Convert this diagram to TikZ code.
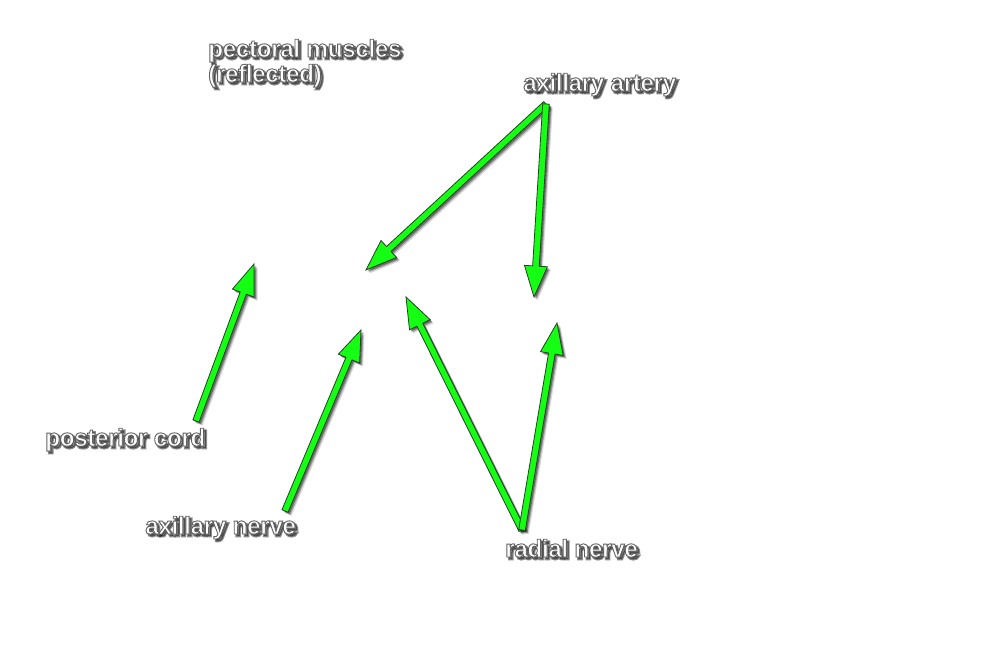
\documentclass[tikz,border=0pt]{standalone}
\usepackage{fontspec}
\usetikzlibrary{calc}
\newfontfamily\lblfam[LetterSpace=-2]{Liberation Sans}
\definecolor{agreen}{RGB}{20,255,20}
\definecolor{aedge}{RGB}{40,60,40}
\newcommand\strokeon[2]{\special{pdf:literal 2 Tr #1 w #2 G}}
\newcommand\strokeoff{\special{pdf:literal 0 Tr}}
\tikzset{
  lbl/.style={anchor=base west, inner sep=0pt, font=\lblfam\bfseries\fontsize{24.5}{25}\selectfont, text=white, align=left},
  lblshadow/.style={lbl, text=black, opacity=0.45},
  arrowbody/.style={fill=agreen, draw=aedge, line width=0.8pt, line join=miter},
}
% shadowed label: name, position, text
\newcommand\slabel[3]{%
  \node[lblshadow] (#1-sh) at ($(#2)+(2.2,2.2)$) {\strokeon{2.2}{0}#3\strokeoff};
  \node[lbl] (#1) at (#2) {\strokeon{0.9}{0.38}#3\strokeoff};}
% green arrow from #1 to #2
\newcommand\garrow[2]{%
  \coordinate (hb) at ($(#2)!31pt!(#1)$);
  \coordinate (h1) at ($(hb)!11.5pt!90:(#2)$);
  \coordinate (h2) at ($(hb)!11.5pt!-90:(#2)$);
  \coordinate (s1) at ($(hb)!3.3pt!90:(#2)$);
  \coordinate (s2) at ($(hb)!3.3pt!-90:(#2)$);
  \coordinate (t1) at ($(#1)!3.3pt!90:(#2)$);
  \coordinate (t2) at ($(#1)!3.3pt!-90:(#2)$);
  \foreach \d/\op in {3.5/0.15, 2.5/0.25, 1.6/0.35}{%
    \begin{scope}[transform canvas={shift={(\d pt,-\d pt)}}]
      \fill[black, opacity=\op] (t1) -- (s1) -- (h1) -- (#2) -- (h2) -- (s2) -- (t2) -- cycle;
    \end{scope}}
  \path[arrowbody] (t1) -- (s1) -- (h1) -- (#2) -- (h2) -- (s2) -- (t2) -- cycle;}
\begin{document}
\begin{tikzpicture}[x=1pt,y=-1pt]
  \useasboundingbox[fill=white] (0,0) rectangle (1000,664);
  % labels
  \slabel{pect}{208,82}{pectoral muscles\\[0pt](reflected)}
  \slabel{artery}{523,91}{axillary artery}
  \slabel{post}{45,446}{posterior cord}
  \slabel{axn}{145,534}{axillary nerve}
  \slabel{rad}{505,557}{radial nerve}
  % connector ends
  \coordinate (artT) at (546,104);
  \coordinate (artA) at (366,270);
  \coordinate (artB) at (534,297);
  \coordinate (postT) at (196,421);
  \coordinate (postA) at (254,264);
  \coordinate (axnT) at (285,511);
  \coordinate (axnA) at (361,330);
  \coordinate (radT) at (522,530);
  \coordinate (radA) at (406,297);
  \coordinate (radB) at (557,323);
  % arrows
  \garrow{artT}{artA}
  \garrow{artT}{artB}
  \garrow{postT}{postA}
  \garrow{axnT}{axnA}
  \garrow{radT}{radA}
  \garrow{radT}{radB}
\end{tikzpicture}
\end{document}
